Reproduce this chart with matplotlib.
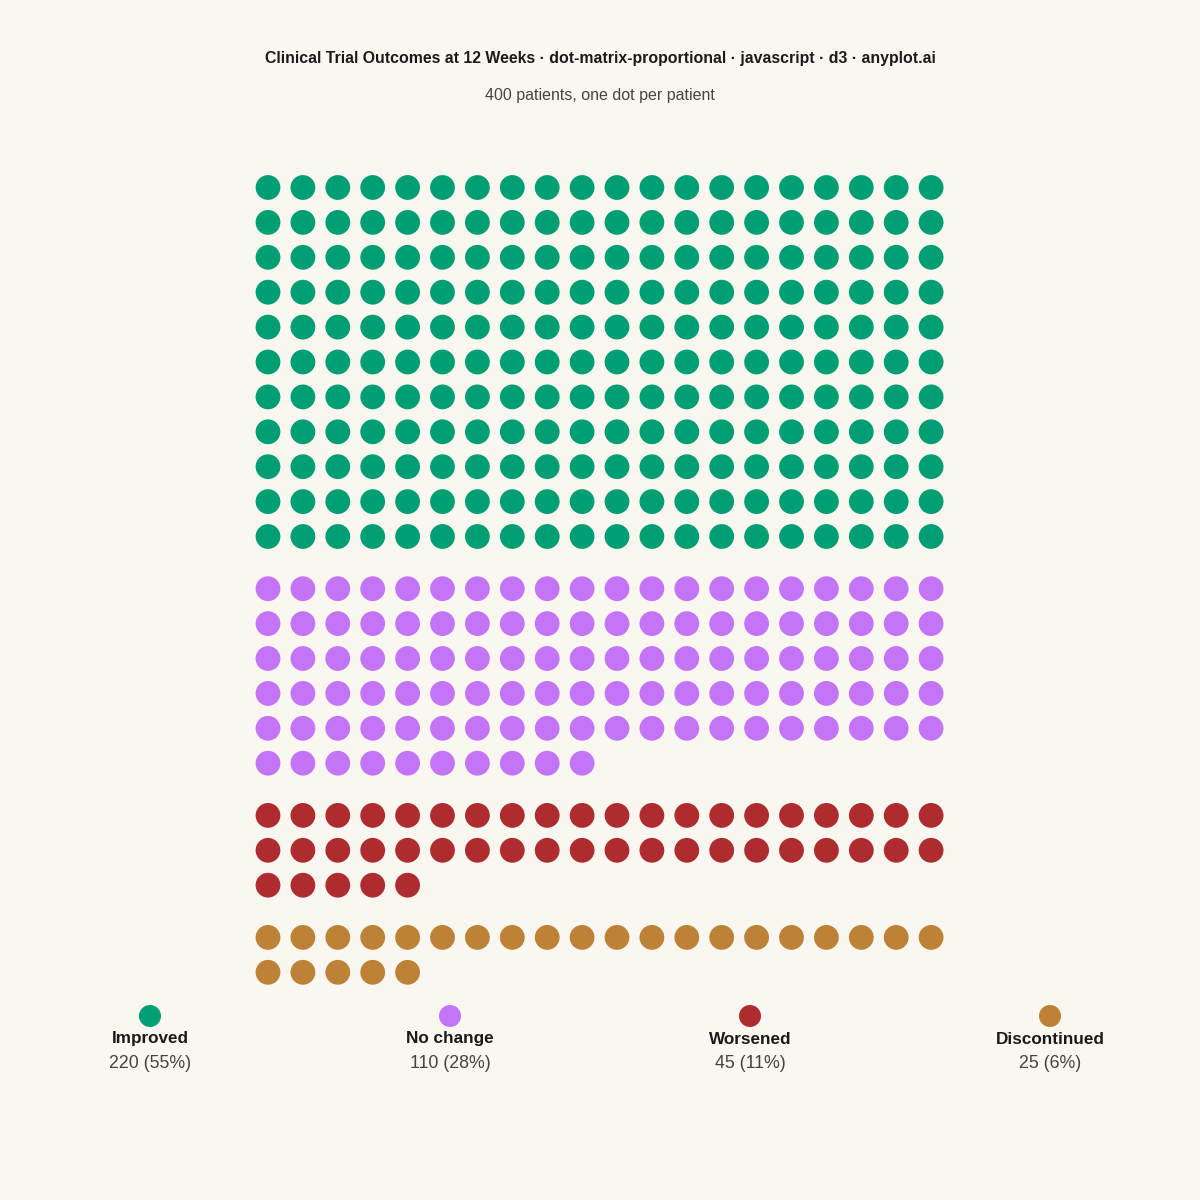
import matplotlib.pyplot as plt
from matplotlib.patches import Circle

# data
categories = ["Improved", "No change", "Worsened", "Discontinued"]
counts = [220, 110, 45, 25]
colors = ["#009E73", "#C475F7", "#AE2C30", "#BD8236"]

title = "Clinical Trial Outcomes at 12 Weeks \u00b7 dot-matrix-proportional \u00b7 javascript \u00b7 d3 \u00b7 anyplot.ai"
subtitle = "400 patients, one dot per patient"

bg = "#FAF7F0"
ncols = 20
step = 34.9
x0 = 268
y0 = 187.5
group_gap = 17.3
r = 12.4

fig = plt.figure(figsize=(12, 12), dpi=100, facecolor=bg)
ax = fig.add_axes([0, 0, 1, 1])
ax.set_xlim(0, 1200)
ax.set_ylim(1200, 0)
ax.set_facecolor(bg)
ax.axis("off")

total = sum(counts)
y = y0
for cat, n, col in zip(categories, counts, colors):
    nrows = (n + ncols - 1) // ncols
    for i in range(n):
        row, c = divmod(i, ncols)
        ax.add_patch(Circle((x0 + c * step, y + row * step), r, color=col, lw=0))
    y += nrows * step + group_gap

# title
fam = ["Liberation Sans", "DejaVu Sans"]
ax.text(600, 59, title, ha="center", va="center", fontsize=11.45,
        fontweight="bold", color="#1a1a1a", family=fam)
ax.text(600, 95.5, subtitle, ha="center", va="center", fontsize=11.5,
        color="#444444", family=fam)

# legend
leg_x = [150, 450, 750, 1050]
for lx, cat, n, col in zip(leg_x, categories, counts, colors):
    ax.add_patch(Circle((lx, 1016), 11, color=col, lw=0))
    ax.text(lx, 1039, cat, ha="center", va="center", fontsize=12.3,
            fontweight="bold", color="#1a1a1a", family=fam)
    pct = round(n / total * 100)
    ax.text(lx, 1063, f"{n} ({pct}%)", ha="center", va="center", fontsize=12.8,
            color="#444444", family=fam)

fig.savefig("out.png", dpi=100, facecolor=bg)
